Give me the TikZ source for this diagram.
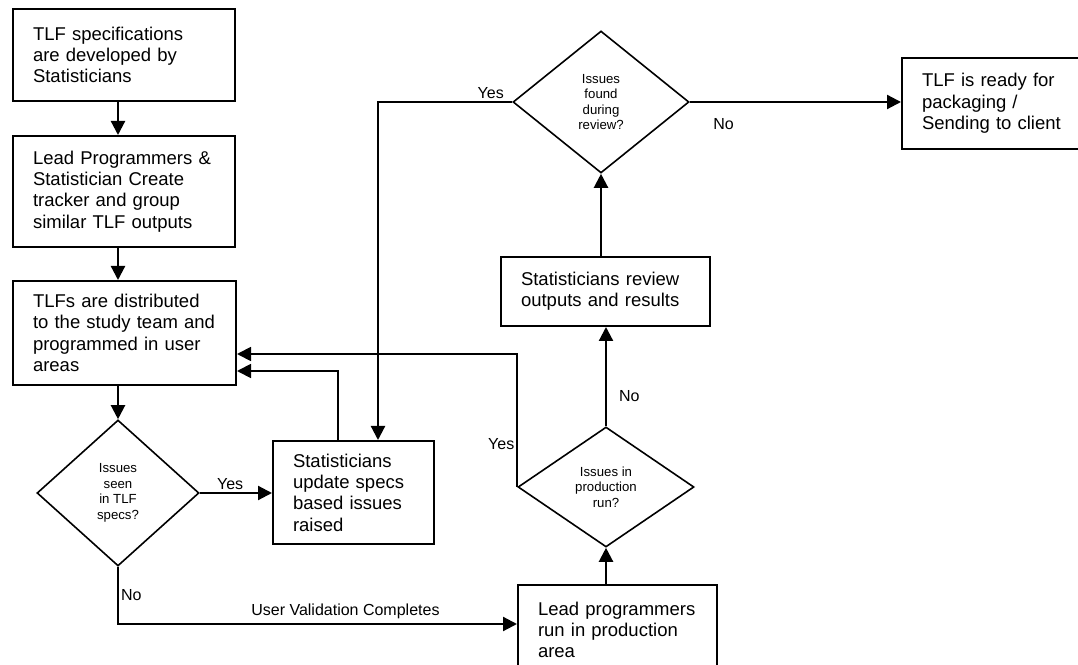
\documentclass[tikz,border=0pt]{standalone}
\usepackage{fontspec}
\setmainfont{Liberation Sans}
\usetikzlibrary{shapes.geometric,arrows.meta,positioning}

\tikzset{
  procbox/.style={draw, rectangle, line width=2pt, align=left, inner xsep=20pt, inner ysep=2pt,
    font=\fontsize{18.5}{21.3}\selectfont},
  decision/.style={draw, diamond, line width=1.6pt, align=center, inner sep=0pt,
    font=\fontsize{13.2}{15.6}\selectfont},
  flow/.style={line width=2.2pt, -{Triangle[length=14pt,width=14pt]}},
  loopback/.style={line width=1.8pt, -{Triangle[length=14pt,width=14pt]}},
  lbl/.style={font=\fontsize{16}{19}\selectfont, inner sep=2pt}
}

\begin{document}
\begin{tikzpicture}[x=1pt,y=1pt]
    \useasboundingbox (0,0) rectangle (1078,664);
    \clip (0,0) rectangle (1078,664);
    % Process boxes
    \node[procbox, text width=182pt, minimum height=92pt] (spec) at (124,609) {TLF specifications\\are developed by\\Statisticians};
    \node[procbox, text width=182pt, minimum height=111pt] (tracker) at (124,472.5) {Lead Programmers \&\\Statistician Create\\tracker and group\\similar TLF outputs};
    \node[procbox, text width=183pt, minimum height=104pt] (distrib) at (124.5,331) {TLFs are distributed\\to the study team and\\programmed in user\\areas};
    \node[procbox, text width=121pt, minimum height=103pt] (update) at (353.5,171.5) {Statisticians\\update specs\\based issues\\raised};
    \node[procbox, text width=159pt, minimum height=90pt] (prodrun) at (617.5,34) {Lead programmers\\run in production\\area};
    \node[procbox, text width=169pt, minimum height=69pt] (review) at (605.5,372.5) {Statisticians review\\outputs and results};
    \node[procbox, text width=160pt, minimum height=91pt] (ready) at (1002,560.5) {TLF is ready for\\packaging /\\Sending to client};
    % Decisions
    \node[decision, minimum width=162pt, minimum height=146pt] (specq) at (118,171) {Issues\\seen\\in TLF\\specs?};
    \node[decision, minimum width=176pt, minimum height=120pt] (prodq) at (606,177) {Issues in\\production\\run?};
    \node[decision, minimum width=176pt, minimum height=142pt] (reviewq) at (601,562) {Issues\\found\\during\\review?};
    % Left column
    \draw[flow] (spec.south -| specq) -- (tracker.north -| specq);
    \draw[flow] (tracker.south -| specq) -- (distrib.north -| specq);
    \draw[flow] (distrib.south -| specq) -- (specq.north);
    % Spec issues
    \draw[flow] (specq.east) -- (specq.east -| update.west) node[lbl, pos=0.42, above] (yes1) {Yes};
    \draw[loopback] ([xshift=-15.5pt]update.north) |- ([yshift=-38pt]distrib.east);
    % Validation done
    \coordinate (valid) at (118,40);
    \draw[flow] (specq.south) -- (valid) node[lbl, pos=0.5, right] (no1) {No}
        -- (valid -| prodrun.west) node[lbl, pos=0.57, above=2pt] (uvc) {User Validation Completes};
    % Production run
    \draw[flow] (prodrun.north -| prodq) -- (prodq.south);
    \draw[flow] (prodq.north) -- (review.south -| prodq) node[lbl, pos=0.3, right=10pt] (no2) {No};
    \draw[loopback] (prodq.west) |- ([yshift=-21pt]distrib.east) node[lbl, pos=0.16, left] (yes2) {Yes};
    % Review
    \draw[flow] (review.north -| reviewq) -- (reviewq.south);
    \draw[flow] (reviewq.east) -- (reviewq.east -| ready.west) node[lbl, pos=0.16, below=13pt] (no3) {No};
    \draw[flow] (reviewq.west) -| ([xshift=24.5pt]update.north) node[lbl, pos=0.08, above] (yes3) {Yes};
\end{tikzpicture}
\end{document}
